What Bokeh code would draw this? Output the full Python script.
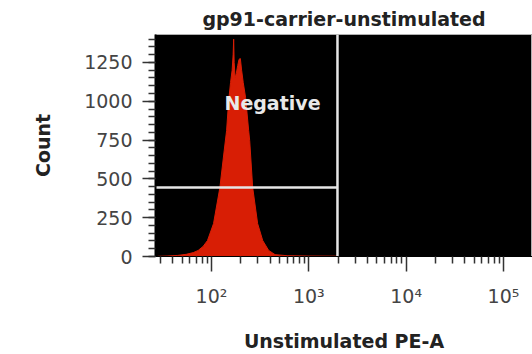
from bokeh.plotting import figure
from bokeh.models import FixedTicker, Range1d, Label, ColumnDataSource
from bokeh.embed import file_html
from bokeh.resources import INLINE

# ---- data ----
pe_values = [28, 35, 45, 55, 65, 73, 82, 91, 105, 122, 135, 143, 150, 157, 163, 167, 169, 171,
             175, 180, 186, 192, 198, 204, 212, 224, 241, 247, 265, 298, 336, 387, 450, 600,
             1000, 1970]
counts = [1, 3, 7, 14, 25, 39, 65, 103, 212, 444, 680, 811, 1000, 1120, 1200, 1300, 1400, 1250,
          1150, 1180, 1230, 1270, 1275, 1200, 1120, 1024, 811, 746, 444, 212, 103, 39, 12, 5,
          3, 2]

x_major_ticks = [100, 1000, 10000, 100000]
x_tick_labels = ["10\u00b2", "10\u00b3", "10\u2074", "10\u2075"]
y_major_ticks = [0, 250, 500, 750, 1000, 1250]

gate_x = 1970      # vertical gate position (PE-A)
gate_y = 445       # horizontal gate marker level (Count)
gate_label = "Negative"
label_pos = (136, 986)

x_start, x_end = 26.6, 198700
y_start, y_end = 0, 1430

title_text = "gp91-carrier-unstimulated"
x_title = "Unstimulated PE-A"
y_title = "Count"

FONT = "DejaVu Sans"

p = figure(width=532, height=354, x_axis_type="log",
           x_range=Range1d(x_start, x_end), y_range=Range1d(y_start, y_end),
           output_backend="svg", toolbar_location=None,
           min_border_left=155, min_border_right=0, min_border_top=34, min_border_bottom=94)

p.background_fill_color = "black"
p.border_fill_color = "white"
p.outline_line_color = "#b0b0b0"
p.grid.visible = False

red = "#d81e05"
src = ColumnDataSource(dict(x=pe_values, y=counts))
p.varea(x="x", y1=0, y2="y", source=src, fill_color=red)
p.line(x="x", y="y", source=src, line_color=red, line_width=1)

# gates
p.segment(x0=[gate_x], y0=[y_start], x1=[gate_x], y1=[y_end], line_color="#e6e6e6", line_width=2.5)
p.segment(x0=[x_start], y0=[gate_y], x1=[gate_x], y1=[gate_y], line_color="#e6e6e6", line_width=2.5)

p.add_layout(Label(x=label_pos[0], y=label_pos[1], text=gate_label, text_color="#e8e8e8",
                   text_font=FONT, text_font_size="19px", text_font_style="bold",
                   text_baseline="middle", text_align="left"))

# title
p.title.text = title_text
p.title.text_font = FONT
p.title.text_font_size = "19px"
p.title.text_font_style = "bold"
p.title.text_color = "#222222"
p.title.align = "center"

# x axis
minor_x = []
for dec in [10, 100, 1000, 10000, 100000]:
    for m in range(2, 10):
        minor_x.append(dec * m)
xa = p.xaxis[0]
xa.ticker = FixedTicker(ticks=x_major_ticks, minor_ticks=minor_x)
xa.major_label_overrides = {t: lab for t, lab in zip(x_major_ticks, x_tick_labels)}
xa.axis_label = x_title
xa.axis_label_text_font = FONT
xa.axis_label_text_font_size = "19px"
xa.axis_label_text_font_style = "bold"
xa.axis_label_text_color = "#222222"
xa.axis_label_standoff = 20
xa.major_label_text_font = FONT
xa.major_label_text_font_size = "19px"
xa.major_label_text_color = "#444444"
xa.major_label_standoff = 13
xa.major_tick_out = 15
xa.major_tick_in = 0
xa.minor_tick_out = 7
xa.minor_tick_in = 0
xa.axis_line_color = "black"
xa.major_tick_line_color = "#333333"
xa.minor_tick_line_color = "#333333"
xa.major_tick_line_width = 1.5
xa.minor_tick_line_width = 1.5

# y axis
ya = p.yaxis[0]
ya.ticker = FixedTicker(ticks=y_major_ticks, minor_ticks=list(range(0, 1401, 50)))
ya.axis_label = y_title
ya.axis_label_text_font = FONT
ya.axis_label_text_font_size = "19px"
ya.axis_label_text_font_style = "bold"
ya.axis_label_text_color = "#222222"
ya.axis_label_standoff = 27
ya.major_label_text_font = FONT
ya.major_label_text_font_size = "19px"
ya.major_label_text_color = "#444444"
ya.major_label_standoff = 10
ya.major_tick_out = 13
ya.major_tick_in = 0
ya.minor_tick_out = 7
ya.minor_tick_in = 0
ya.axis_line_color = "black"
ya.axis_line_width = 2
ya.major_tick_line_color = "#333333"
ya.minor_tick_line_color = "#333333"
ya.major_tick_line_width = 1.5
ya.minor_tick_line_width = 1.5

open("out.html", "w").write(file_html(p, INLINE))
